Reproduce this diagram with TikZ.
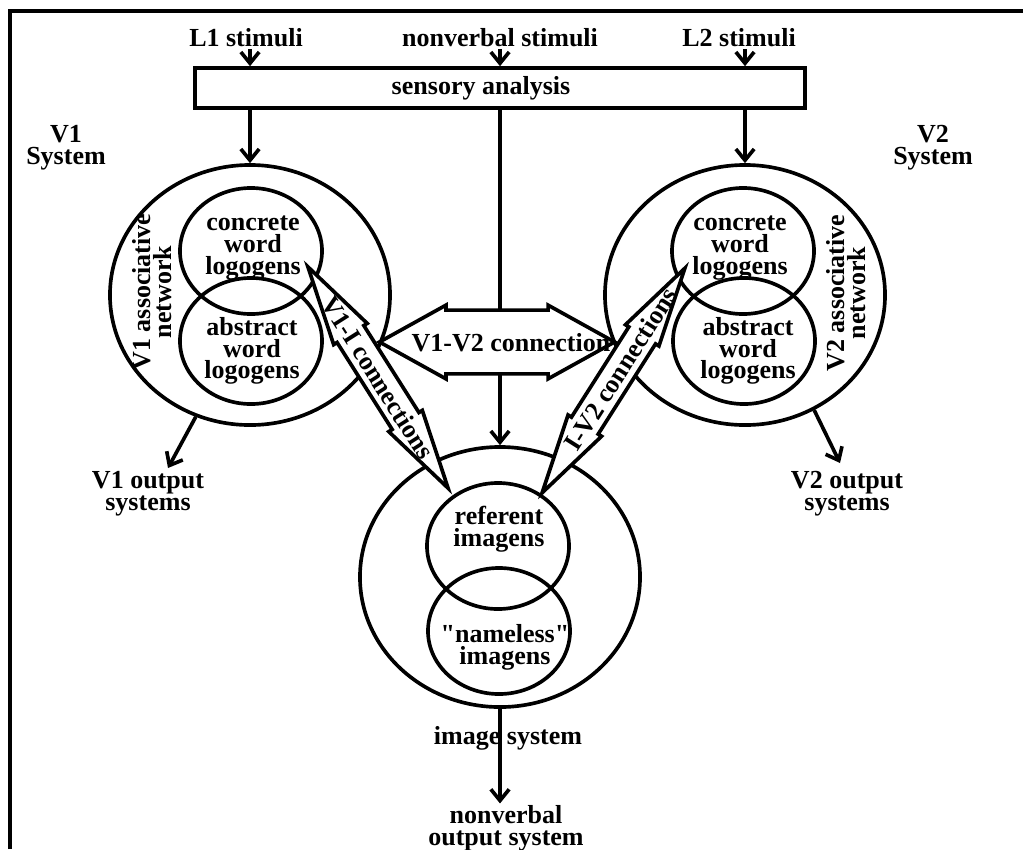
\documentclass[tikz,border=0pt]{standalone}
\usepackage{fontspec}
\setmainfont{Liberation Serif}
\usetikzlibrary{shapes.geometric, shapes.arrows, arrows.meta}

\begin{document}
\begin{tikzpicture}[x=0.025cm, y=-0.025cm, line width=2.6pt,
  >={Straight Barb[length=8pt,width=13pt]},
  lbl/.style={font=\fontsize{18.5}{15.5}\selectfont\bfseries, align=center, inner sep=0pt},
  bigring/.style={ellipse, draw, minimum width=7cm, minimum height=6.5cm, inner sep=0pt},
  smallring/.style={ellipse, draw, minimum width=3.55cm, minimum height=3.15cm, inner sep=0pt},
  linkarrow/.style={double arrow, draw, fill=white, inner xsep=0pt}]
  \useasboundingbox (0,0) rectangle (1023,849);

  % Frame (top and left edge only)
  \draw (10,849) -- (10,11) -- (1023,11);

  % Stimuli and sensory analysis
  \node[lbl] (l1) at (246,38) {L1 stimuli};
  \node[lbl] (nvs) at (500,38) {nonverbal stimuli};
  \node[lbl] (l2) at (739,38) {L2 stimuli};
  \node[draw, minimum width=15.25cm, minimum height=1cm, inner sep=0pt] (sens) at (500,88) {};
  \node[lbl] (senstxt) at (481,88) {sensory analysis};

  % The three systems
  \node[bigring] (v1) at (250,295) {};
  \node[bigring] (v2) at (745,295) {};
  \node[bigring] (img) at (500,577) {};
  \node[smallring] (v1con) at (251,251) {};
  \node[smallring] (v1abs) at (251,341) {};
  \node[smallring] (v2con) at (743,251) {};
  \node[smallring] (v2abs) at (744,341) {};
  \node[smallring] (ref) at (498,546) {};
  \node[smallring] (nls) at (499,631) {};

  % Arrows into and out of sensory analysis
  \foreach \s/\t in {l1/v1, nvs/img, l2/v2} {
    \draw[->] (\s.south -| \t.north) -- (sens.north -| \t.north);
    \draw[->] (sens.south -| \t.north) -- (\t.north);
  }

  % V1-V2 connection
  \node[linkarrow, minimum height=5.875cm, inner ysep=0.75cm, double arrow tip angle=58,
    double arrow head extend=0.125cm] (v1v2) at (497,342) {};
  \node[lbl] (v1v2txt) at (511,343) {V1-V2 connection};

  % Referential connections
  \coordinate (v1tip) at (308,267);
  \coordinate (reftipl) at (448,488);
  \coordinate (reftipr) at (542,493);
  \coordinate (v2tip) at (685,268);
  \path (v1tip) -- (reftipl)
    node[midway, sloped, linkarrow, minimum height=6.55cm, inner ysep=0.35cm,
      double arrow tip angle=28, double arrow head extend=0.1cm] (v1i) {}
    node[midway, sloped, lbl] (v1itxt) {V1-I connections};
  \path (reftipr) -- (v2tip)
    node[midway, sloped, linkarrow, minimum height=6.65cm, inner ysep=0.35cm,
      double arrow tip angle=28, double arrow head extend=0.1cm] (iv2) {}
    node[pos=0.55, sloped, lbl] (iv2txt) {I-V2 connections};

  % Texts inside the rings
  \node[lbl] (v1contxt) at (253,248) {concrete\\word\\logogens};
  \node[lbl] (v1abstxt) at (252,351) {abstract\\word\\logogens};
  \node[lbl] (v2contxt) at (740,248) {concrete\\word\\logogens};
  \node[lbl] (v2abstxt) at (748,351) {abstract\\word\\logogens};
  \node[lbl] (reftxt) at (499,529) {referent\\imagens};
  \node[lbl] (nlstxt) at (505,647) {\textquotedbl nameless\textquotedbl\\imagens};
  \node[lbl, rotate=90] (v1net) at (152,292) {V1 associative\\network};
  \node[lbl, rotate=90] (v2net) at (846,293) {V2 associative\\network};
  \node[lbl] (v1sys) at (66,148) {V1\\System};
  \node[lbl] (v2sys) at (933,148) {V2\\System};

  % Outputs
  \node[lbl] (v1out) at (148,494) {V1 output\\systems};
  \node[lbl] (v2out) at (847,494) {V2 output\\systems};
  \node[lbl] (imgsys) at (508,738) {image system};
  \node[lbl] (nvout) at (506,828) {nonverbal\\output system};
  \coordinate (v1end) at (168,468);
  \coordinate (v2end) at (840,463);
  \draw[->] (v1.-114) -- (v1end);
  \draw[->] (v2.-59) -- (v2end);
  \draw[->] (img.south) -- (img.south |- nvout.north);
\end{tikzpicture}
\end{document}
